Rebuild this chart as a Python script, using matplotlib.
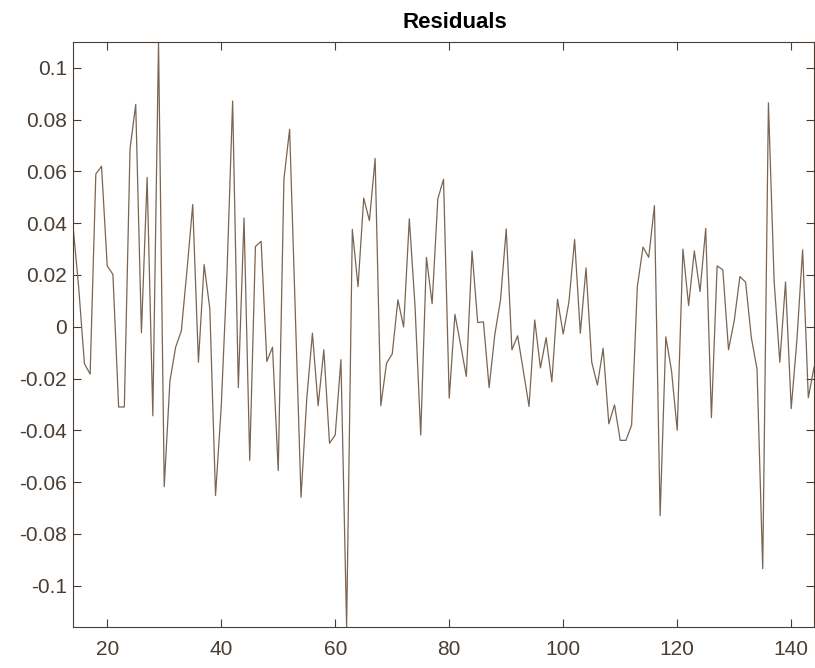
import numpy as np
import matplotlib
matplotlib.use('Agg')
import matplotlib.pyplot as plt
from matplotlib.ticker import FuncFormatter, MultipleLocator

plt.rcParams['font.family'] = ['Liberation Sans', 'DejaVu Sans']
plt.rcParams['axes.unicode_minus'] = False

# residual series (lags 14..144)
resid = [
    0.039, 0.015, -0.0143, -0.0183, 0.059, 0.062, 0.0235, 0.0202, -0.031, -0.031,
    0.0687, 0.0859, -0.0023, 0.0577, -0.0344, 0.110, -0.0618, -0.021, -0.0079, -0.0016,
    0.022, 0.0472, -0.0137, 0.024, 0.007, -0.0652, -0.031, 0.02, 0.0872, -0.0235,
    0.042, -0.0516, 0.031, 0.033, -0.0134, -0.0079, -0.0556, 0.057, 0.0763, 0.005,
    -0.0659, -0.028, -0.0025, -0.0305, -0.0089, -0.045, -0.0418, -0.0127, -0.116, 0.0376,
    0.0155, 0.0497, 0.041, 0.065, -0.0305, -0.0141, -0.0105, 0.0104, -0.0001, 0.0417,
    0.008, -0.0418, 0.0268, 0.0089, 0.0494, 0.057, -0.0276, 0.0048, -0.007, -0.0192,
    0.0293, 0.0016, 0.0019, -0.0235, -0.003, 0.0104, 0.0378, -0.0089, -0.0035, -0.017,
    -0.0308, 0.0026, -0.0159, -0.0042, -0.0213, 0.0106, -0.0028, 0.0096, 0.0337, -0.0025,
    0.0227, -0.0137, -0.0225, -0.0083, -0.0375, -0.0302, -0.0439, -0.0439, -0.038, 0.0155,
    0.0308, 0.0268, 0.0468, -0.073, -0.0039, -0.017, -0.040, 0.030, 0.0082, 0.0293,
    0.0136, 0.038, -0.0351, 0.0235, 0.022, -0.0089, 0.0023, 0.0194, 0.0172, -0.0042,
    -0.0163, -0.0935, 0.0865, 0.0176, -0.0137, 0.0173, -0.0316, -0.005, 0.0297, -0.0274,
    -0.0157,
]
resid = np.array(resid)
lags = np.arange(14, 14 + len(resid))

axis_col = '#4a3d33'
line_col = '#7a6552'


def fmt(v, pos):
    if abs(v) < 1e-9:
        return '0'
    return '%g' % round(v, 4)


fig = plt.figure(figsize=(8.15, 6.68), dpi=100)
ax = fig.add_axes([0.0896, 0.0614, 0.9092, 0.8757])

ax.plot(lags, resid, color=line_col, linewidth=0.9)

ax.set_xlim(lags[0], lags[-1])
ax.set_ylim(resid.min(), resid.max())
ax.xaxis.set_major_locator(MultipleLocator(20))
ax.yaxis.set_major_locator(MultipleLocator(0.02))
ax.yaxis.set_major_formatter(FuncFormatter(fmt))

ax.tick_params(direction='in', length=5.5, width=0.8, colors=axis_col,
               labelsize=15, top=True, right=True)
ax.tick_params(axis='x', pad=9.5)
ax.tick_params(axis='y', pad=4.5)
for s in ax.spines.values():
    s.set_color(axis_col)
    s.set_linewidth(0.8)

ax.set_title('Residuals', fontsize=16, fontweight='bold', color='black',
             x=0.5155, pad=10)

fig.savefig('out.png', dpi=100)
